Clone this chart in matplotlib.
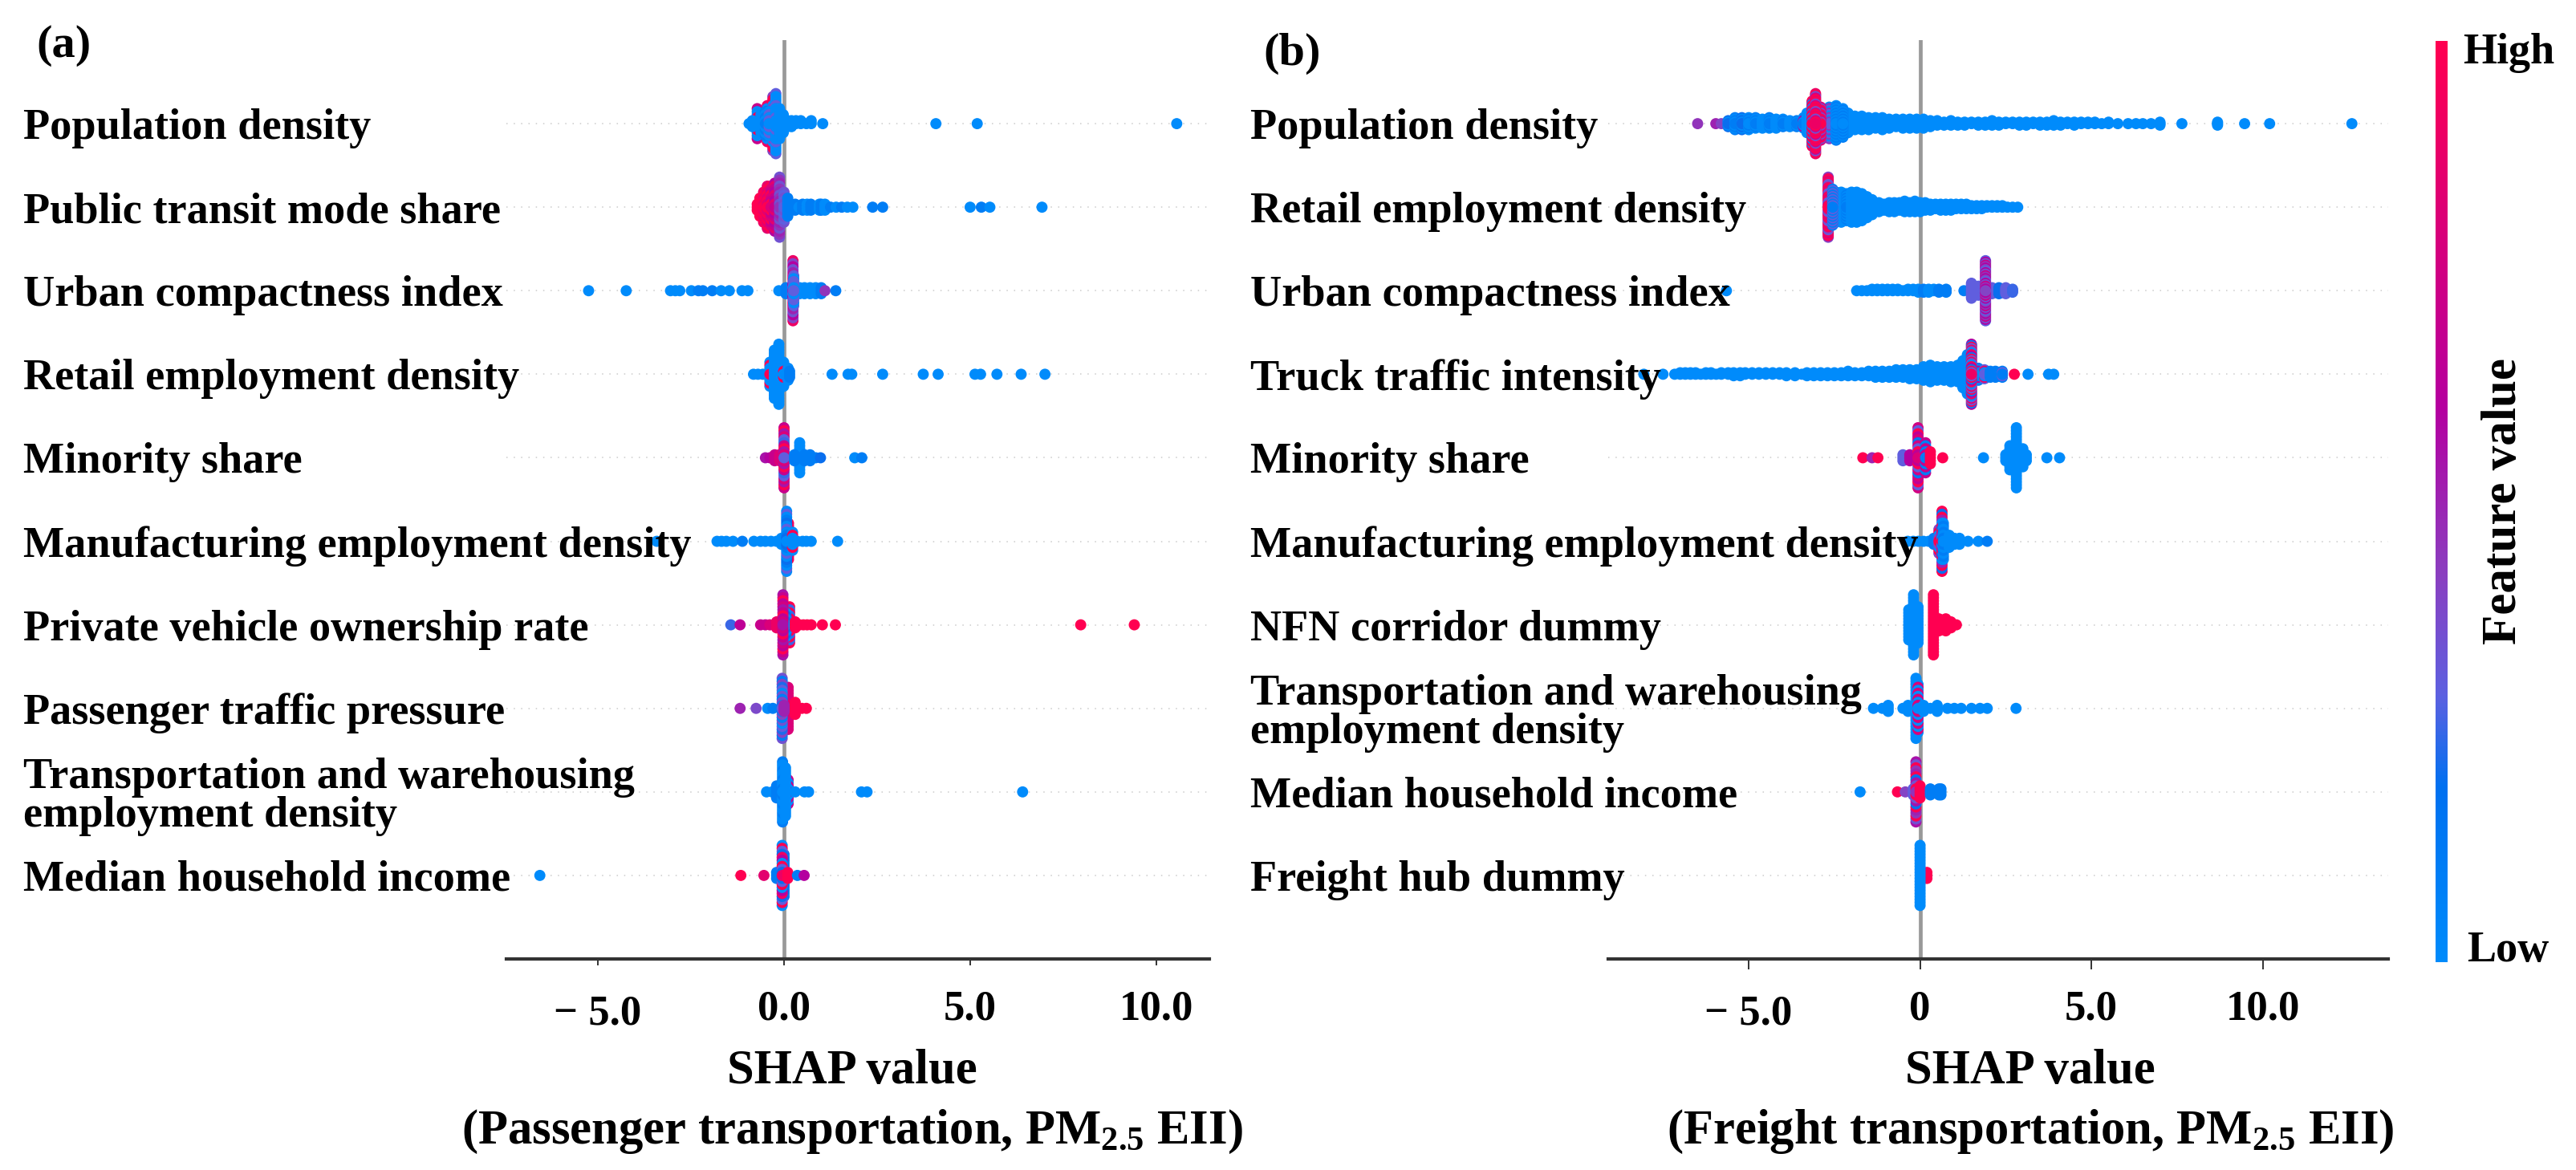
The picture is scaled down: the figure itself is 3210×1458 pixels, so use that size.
import matplotlib
matplotlib.use("Agg")
import matplotlib.pyplot as plt
from matplotlib.cm import ScalarMappable
from matplotlib.colors import LinearSegmentedColormap, Normalize
from matplotlib.transforms import ScaledTranslation

plt.rcParams.update({
    "font.family": "Liberation Serif",
    "font.weight": "bold",
    "axes.labelweight": "bold",
    "mathtext.fontset": "custom",
    "mathtext.rm": "Liberation Serif:bold",
    "mathtext.bf": "Liberation Serif:bold",
    "mathtext.default": "rm",
    "axes.unicode_minus": False,
})

# Each column of a swarm: SHAP value, number of stacked samples, feature values
# (cycled from the centre of the stack outwards). Columns draw in list order.

# ---- Passenger transportation ----
passenger_labels = ["Population density", "Public transit mode share", "Urban compactness index",
                    "Retail employment density", "Minority share", "Manufacturing employment density",
                    "Private vehicle ownership rate", "Passenger traffic pressure",
                    "Transportation and warehousing\nemployment density", "Median household income"]

p1_x = [-0.72, -0.45, -0.3, -0.62, -0.94, -0.85, -0.5, -0.4, -0.22, -0.12, -0.02, 0.1, 0.2, 0.32, 0.45, 0.6, 0.73, 1.04, 4.08, 5.19, 10.55]
p1_n = [11, 13, 19, 7, 1, 3, 9, 9, 21, 11, 7, 3, 3, 2, 2, 1, 2, 1, 1, 1, 1]
p1_v = [(0, .7, 1, 0), (.9, .5, 0), (1, .4, 0, 1), (0,), (0,), (0,), (.1, 0), (0, .3), (0, 0, .3, 0), (0,), (0,), (0,), (0,), (0,), (0,), (0,), (0,), (0,), (0,), (0,), (0,)]

p2_x = [-0.72, -0.65, -0.55, -0.45, -0.35, -0.25, -0.12, 0.0, 0.1, 0.2, 0.3, 0.4, 0.5, 0.62, 0.72, 0.85, 0.95, 1.0, 1.1, 1.25, 1.4, 1.55, 1.7, 1.85, 2.38, 2.65, 5.0, 5.3, 5.53, 6.93]
p2_n = [3, 7, 11, 15, 15, 17, 21, 11, 7, 3, 3, 1, 3, 3, 3, 1, 3, 3, 3, 1, 1, 1, 1, 1, 1, 1, 1, 1, 1, 1]
p2_v = [(1,), (1,), (1, .9), (1, .85), (.8, 1, .7), (.7, .85, .6), (.45, .35, .5), (.3, .35), (.1,), (.1,), (.1,), (0,), (.1,), (0,), (.1,), (.1,), (0,), (.1,), (0,), (.1,), (0,), (.1,), (0,), (0,), (.1,), (.1,), (0,), (.1,), (0,), (0,)]

p3_x = [-5.25, -4.24, -3.05, -2.92, -2.8, -2.49, -2.3, -2.18, -1.93, -1.69, -1.47, -1.13, -0.97, -0.14, 0.05, 0.42, 0.55, 0.7, 0.85, 1.0, 1.1, 1.39, 0.24, 0.26]
p3_n = [1, 1, 1, 1, 1, 1, 1, 1, 1, 1, 1, 1, 1, 1, 3, 3, 3, 3, 3, 3, 1, 1, 21, 11]
p3_v = [(0,), (0,), (0,), (0,), (0,), (0,), (.1,), (.1,), (.1,), (0,), (0,), (0,), (0,), (0,), (.1,), (0,), (0,), (0,), (0,), (.1,), (.45,), (.1,), (.5, .35, .6, .4, .9, .8), (.3, 0, .3)]

p4_x = [-0.82, -0.7, -0.57, -0.38, -0.26, -0.14, -0.01, 0.11, 0.15, 1.29, 1.72, 1.82, 2.65, 3.74, 4.14, 5.13, 5.28, 5.72, 6.37, 7.01]
p4_n = [1, 1, 1, 9, 17, 21, 9, 5, 3, 1, 1, 1, 1, 1, 1, 1, 1, 1, 1, 1]
p4_v = [(0,), (0,), (0,), (1, 0, 0), (0,), (0,), (0, 1, 0, 0), (0,), (.1,), (0,), (0,), (0,), (0,), (0,), (0,), (0,), (0,), (0,), (0,), (0,)]

p5_x = [-0.5, -0.38, -0.25, -0.12, 0.0, 0.42, 0.28, 0.55, 0.7, 0.85, 0.98, 1.9, 2.09]
p5_n = [1, 1, 3, 3, 21, 11, 3, 3, 3, 1, 1, 1, 1]
p5_v = [(.55,), (.6,), (.7,), (.8,), (.3, .8, .55, 1, .7, .25), (0,), (.1,), (.1,), (.1,), (.1,), (.2,), (0,), (.1,)]

p6_x = [-3.42, -1.8, -1.68, -1.55, -1.37, -1.12, -0.81, -0.63, -0.5, -0.35, -0.2, -0.07, 0.12, 0.07, 0.23, 0.35, 0.5, 0.6, 0.73, 1.44]
p6_n = [1, 1, 1, 1, 1, 1, 1, 1, 1, 1, 1, 3, 13, 21, 7, 1, 1, 1, 1, 1]
p6_v = [(0,), (0,), (0,), (0,), (0,), (.1,), (0,), (0,), (0,), (0,), (0,), (0,), (1, .9), (0, .2, .1, 0, .3), (0, 0, 1), (0,), (0,), (0,), (0,), (0,)]

p7_x = [-1.43, -1.18, -0.63, -0.5, -0.38, -0.2, 0.15, 0.05, -0.03, 0.3, 0.42, 0.52, 0.62, 0.73, 1.03, 1.38, 7.97, 9.41]
p7_n = [1, 1, 1, 1, 1, 3, 13, 9, 21, 3, 1, 1, 1, 1, 1, 1, 1, 1]
p7_v = [(.25,), (.65,), (.7,), (.7,), (.8,), (.9,), (1, .25), (0, .2), (.55, .75, .65, 1, .7), (1,), (1,), (1,), (1,), (1,), (1,), (1,), (1,), (1,)]

p8_x = [-1.18, -0.75, -0.44, -0.3, 0.11, -0.05, 0.0, 0.3, 0.48, 0.6]
p8_n = [1, 1, 1, 1, 15, 21, 3, 5, 1, 1]
p8_v = [(.5,), (.38,), (0,), (.1,), (.8,), (.3, .22, .4, .1, .35, 0), (.5,), (1,), (1,), (1,)]

p9_x = [-0.47, -0.32, -0.2, -0.04, 0.11, 0.3, 0.55, 0.66, 2.08, 2.23, 6.41, 0.04]
p9_n = [1, 1, 5, 21, 9, 1, 1, 1, 1, 1, 1, 17]
p9_v = [(0,), (0,), (.1,), (0, .1, 0), (.7, 0), (0,), (0,), (0,), (0,), (0,), (0,), (0,)]

p10_x = [-6.56, -1.16, -0.54, -0.2, 0.0, -0.05, 0.1, 0.36, 0.54]
p10_n = [1, 1, 1, 3, 15, 21, 3, 1, 1]
p10_v = [(0,), (1,), (.85,), (.1,), (.1, .2), (.9, .2, .3, 1, 0, .6), (1,), (.1,), (.6,)]

# ---- Freight transportation ----
freight_labels = ["Population density", "Retail employment density", "Urban compactness index",
                  "Truck traffic intensity", "Minority share", "Manufacturing employment density",
                  "NFN corridor dummy", "Transportation and warehousing\nemployment density",
                  "Median household income", "Freight hub dummy"]

f1_x = [-6.49, -5.96, -5.8, -5.6, -5.4, -5.2, -5.0, -4.8, -4.6, -4.4, -4.2, -4.0, -3.8, -3.6, -3.4, -2.1, -1.9, -1.7, -1.5, -1.3, -1.1, -0.9, -0.7, -0.5, -0.3, -0.1, 0.1, 0.3, 0.5, 0.7, 0.9, 1.1, 1.3, 1.5, 1.7, 1.9, 2.1, 2.3, 2.5, 2.7, 2.9, 3.1, 3.3, 3.5, 3.7, 3.9, 4.1, 4.3, 4.5, 4.7, 4.9, 5.1, 5.3, 5.5, 5.77, 6.07, 6.3, 6.5, 6.74, 7.0, 7.64, 8.68, 9.47, 10.2, 12.6, -3.3, -2.65, -2.45, -2.25, -2.9, -3.15, -3.05]
f1_n = [1, 1, 1, 5, 9, 9, 9, 8, 7, 8, 7, 6, 5, 5, 8, 14, 10, 10, 9, 8, 9, 7, 6, 7, 7, 7, 7, 5, 4, 3, 4, 3, 3, 2, 3, 3, 4, 3, 2, 2, 3, 3, 2, 3, 3, 4, 3, 2, 3, 2, 2, 2, 1, 2, 1, 1, 1, 1, 1, 3, 1, 3, 1, 1, 1, 14, 22, 24, 20, 23, 31, 41]
f1_v = [(.45,), (.5,), (.4,), (.2, 0), (.1, 0), (.2, 0), (0, .1), (.1, 0), (0,), (.1, 0), (0,), (.1, 0), (0,), (.1, 0), (.1, 0, .6), (0,), (0,), (0,), (0,), (0,), (0,), (0,), (0,), (0,), (0,), (0,), (0,), (0,), (0,), (0,), (0,), (0,), (0,), (0,), (0,), (0,), (0,), (0,), (0,), (0,), (0,), (0,), (0,), (0,), (0,), (0,), (0,), (0,), (0,), (0,), (0,), (0,), (0,), (0,), (0,), (0,), (0,), (0,), (0,), (0,), (0,), (0,), (0,), (0,), (0,), (0,), (.3, .45, 0), (0, .1), (0, .1), (1, .4, .8), (1, 0, .9), (.9, 1, .75, .35, 1)]

f2_x = [-1.28, -2.45, -2.3, -2.15, -2.0, -1.85, -1.7, -1.55, -1.4, -1.2, -1.05, -0.9, -0.75, -0.6, -0.45, -0.3, -0.15, 0.0, 0.15, 0.3, 0.45, 0.6, 0.75, 0.9, 1.05, 1.2, 1.35, 1.5, 1.65, 1.8, 1.95, 2.1, 2.25, 2.4, 2.55, 2.7, 2.85, -2.68, -2.55]
f2_n = [1, 21, 21, 19, 21, 21, 19, 15, 11, 7, 5, 7, 7, 6, 8, 7, 8, 7, 6, 5, 4, 5, 5, 5, 4, 4, 4, 3, 3, 3, 2, 2, 2, 2, 1, 1, 1, 41, 25]
f2_v = [(.8,), (0, .1), (0,), (.1, 0), (0,), (0,), (0,), (0,), (0,), (0,), (0,), (0,), (0,), (0,), (0,), (0,), (0,), (0,), (0,), (0,), (0,), (0,), (0,), (0,), (0,), (0,), (0,), (0,), (0,), (0,), (0,), (0,), (0,), (0,), (0,), (0,), (0,), (1, .9, .4, .3, .95, .8), (.1, .3)]

f3_x = [-5.65, -1.85, -1.7, -1.55, -1.4, -1.25, -1.1, -0.95, -0.8, -0.65, -0.5, -0.35, -0.2, -0.05, 0.1, 0.25, 0.4, 0.55, 0.76, 1.28, 1.5, 1.7, 2.1, 2.3, 2.5, 2.7, 1.91]
f3_n = [1, 1, 1, 1, 2, 2, 2, 2, 2, 2, 1, 2, 2, 3, 3, 3, 2, 3, 3, 1, 11, 7, 5, 5, 5, 3, 41]
f3_v = [(0,), (0,), (0,), (0,), (0,), (0,), (0,), (0,), (0,), (0,), (0,), (0,), (0,), (0,), (.1,), (0,), (0,), (.1,), (.1,), (.1,), (.3,), (.3,), (.3,), (.2,), (.3,), (.25,), (.4, .6, .45, .7, .35, .6, .3)]

f4_x = [-8.06, -7.5, -7.16, -7.0, -6.85, -6.7, -6.55, -6.4, -6.25, -6.1, -5.95, -5.8, -5.6, -5.44, -5.25, -5.1, -4.9, -4.7, -4.5, -4.3, -4.1, -3.9, -3.65, -3.45, -3.3, -3.1, -2.9, -2.7, -2.5, -2.3, -2.1, -1.9, -1.7, -1.5, -1.3, -1.1, -0.9, -0.7, -0.5, -0.3, -0.1, 0.1, 0.3, 0.5, 0.7, 0.9, 1.1, 1.25, 1.38, 3.15, 3.75, 3.9, 1.7, 1.88, 2.05, 2.2, 2.4, 2.75, 1.5]
f4_n = [1, 1, 1, 2, 2, 2, 2, 1, 2, 2, 1, 2, 2, 3, 3, 2, 2, 2, 2, 2, 2, 3, 3, 1, 3, 3, 3, 3, 3, 3, 4, 3, 3, 4, 5, 5, 5, 6, 6, 7, 7, 10, 12, 10, 10, 11, 12, 19, 27, 1, 1, 1, 9, 7, 5, 5, 5, 1, 41]
f4_v = [(0,), (0,), (0,), (0,), (0,), (0,), (0,), (0,), (0,), (0,), (0,), (0,), (0,), (0,), (0,), (0,), (0,), (0,), (0,), (0,), (0,), (0,), (0,), (0,), (0,), (0,), (0,), (0,), (0,), (0,), (0,), (0,), (0,), (0,), (0,), (0,), (0,), (0,), (0,), (0,), (0,), (0,), (0,), (0,), (0,), (0,), (0,), (0,), (0,), (0,), (0,), (0,), (0, .1, .7), (.3, 0, .9), (.1,), (.1,), (.1, .3), (1,), (.9, .3, 1, .1, .6, 1, 0, .3)]

f5_x = [-1.67, -1.4, -1.23, -0.5, -0.3, -0.06, 0.16, 0.3, 0.66, 1.85, 2.5, 2.62, 2.81, 3.0, 3.1, 3.7, 4.07]
f5_n = [1, 1, 1, 3, 3, 21, 11, 5, 1, 1, 3, 9, 21, 7, 3, 1, 1]
f5_v = [(1,), (.5,), (1,), (.3,), (.6,), (.8, .65, 1, .3, .75, .15), (.1, .7), (1,), (1,), (0,), (0,), (0,), (0,), (0,), (0,), (0,), (0,)]

f6_x = [-0.36, -0.2, -0.05, 0.1, 0.25, 0.4, 0.55, 0.64, 0.68, 0.85, 1.0, 1.15, 1.4, 1.7, 1.96]
f6_n = [1, 1, 1, 1, 1, 3, 9, 21, 13, 5, 3, 3, 1, 1, 1]
f6_v = [(0,), (0,), (0,), (0,), (0,), (.1,), (1, .4, 0), (1, 0, .5, 1, .2), (0, .1), (0,), (0,), (0,), (0,), (0,), (.1,)]

f7_x = [-0.33, -0.19, -0.06, 0.39, 0.55, 0.75, 0.9, 1.06]
f7_n = [11, 21, 13, 21, 5, 5, 3, 1]
f7_v = [(0,), (0,), (0,), (1,), (1,), (1,), (1,), (1,)]

f8_x = [-1.36, -1.1, -0.93, -0.5, -0.35, -0.12, -0.06, 0.1, 0.3, 0.5, 0.8, 1.0, 1.2, 1.5, 1.75, 1.96, 2.8]
f8_n = [1, 1, 3, 1, 3, 21, 17, 3, 1, 3, 1, 1, 1, 1, 1, 1, 1]
f8_v = [(0,), (0,), (0,), (0,), (0,), (0,), (0, .8), (0,), (0,), (0,), (0,), (0,), (0,), (0,), (0,), (0,), (0,)]

f9_x = [-1.75, -0.66, -0.43, -0.2, -0.12, 0.0, 0.3, 0.55, 0.61]
f9_n = [1, 1, 1, 3, 21, 5, 3, 3, 3]
f9_v = [(0,), (1,), (.4,), (.3,), (.45, 1, .35, .55, .2, 1, .5), (1,), (.1,), (.1,), (.1,)]

f10_x = [0.2, 0.0]
f10_n = [3, 21]
f10_v = [(1,), (0,)]

passenger_rows = [(p1_x, p1_n, p1_v), (p2_x, p2_n, p2_v), (p3_x, p3_n, p3_v), (p4_x, p4_n, p4_v), (p5_x, p5_n, p5_v),
                  (p6_x, p6_n, p6_v), (p7_x, p7_n, p7_v), (p8_x, p8_n, p8_v), (p9_x, p9_n, p9_v), (p10_x, p10_n, p10_v)]
freight_rows = [(f1_x, f1_n, f1_v), (f2_x, f2_n, f2_v), (f3_x, f3_n, f3_v), (f4_x, f4_n, f4_v), (f5_x, f5_n, f5_v),
                (f6_x, f6_n, f6_v), (f7_x, f7_n, f7_v), (f8_x, f8_n, f8_v), (f9_x, f9_n, f9_v), (f10_x, f10_n, f10_v)]

xtick_values = [-5.0, 0.0, 5.0, 10.0]
passenger_xticks = ["\u2212 5.0", "0.0", "5.0", "10.0"]
freight_xticks = ["\u2212 5.0", "0", "5.0", "10.0"]

W, H = 3210, 1458
DPI = 100
LABEL_PT = 39.1
shap_cmap = LinearSegmentedColormap.from_list(
    "shap_rb", [(0, "#008bfb"), (.19, "#0070f0"), (.29, "#5d60e0"), (.42, "#8a3fc0"), (.6, "#b400a0"), (1, "#ff0051")])


def panel_axes(fig, left, right, top=50, bottom=1195):
    return fig.add_axes([left / W, 1 - bottom / H, (right - left) / W, (bottom - top) / H])


def nudge_down(fig, label, px):
    label.set_transform(label.get_transform() + ScaledTranslation(0, -px / DPI, fig.dpi_scale_trans))


def draw_swarm(ax, rows, labels, xlim, label_left, left_px, tick_text, tick_px, xlabel, label_x):
    ax.axvline(0, color="#999999", lw=3.4, zorder=0)
    count = len(rows)
    for r, (xs, ns, vs) in enumerate(rows):
        centre = count - 1 - r
        ax.axhline(centre, color="#cccccc", lw=1.1, dashes=(1, 5), zorder=-1)
        step = 0.36 / (max(ns) // 2)
        px, py, pc = [], [], []
        for x, n, v in zip(xs, ns, vs):
            # outermost samples first, so the centre of a stack stays on top
            for layer in range(n - 1, -1, -1):
                offset = ((layer + 1) // 2) * (1 if layer % 2 else -1)
                px.append(x)
                py.append(centre + offset * step)
                pc.append(v[((layer + 1) // 2) % len(v)])
        ax.scatter(px, py, c=pc, s=100, cmap=shap_cmap, vmin=0, vmax=1, linewidths=0, zorder=1)
    ax.set_xlim(*xlim)
    ax.set_ylim(-1, count)
    ax.set_axisbelow(False)
    for side in ("top", "left", "right"):
        ax.spines[side].set_visible(False)
    ax.spines["bottom"].set_color("#333333")
    ax.spines["bottom"].set_linewidth(3)
    ax.set_yticks(range(count - 1, -1, -1), labels, ha="left", va="center", fontsize=LABEL_PT,
                  linespacing=0.94)
    ax.tick_params(axis="y", length=0, pad=(left_px - label_left) * 72 / DPI)
    for label in ax.get_yticklabels():
        nudge_down(ax.figure, label, 6)
    ax.set_xticks(xtick_values, tick_text, fontsize=38)
    tick_len = tick_px * 72 / DPI
    ax.tick_params(axis="x", length=tick_len, width=1.4, color="#333333", pad=28 - tick_len)
    # the negative tick label sits a little lower than its neighbours
    nudge_down(ax.figure, ax.get_xticklabels()[0], 6)
    ax.set_xlabel(xlabel, fontsize=43.7, labelpad=14, linespacing=1.4, x=label_x)


fig = plt.figure(figsize=(W / DPI, H / DPI), dpi=DPI, facecolor="white")

ax_a = panel_axes(fig, 630.5, 1506.7)
draw_swarm(ax_a, passenger_rows, passenger_labels, (-7.47, 11.42), 29, 630.5, passenger_xticks, 8,
           "SHAP value\n(Passenger transportation, PM$_{2.5}$ EII)", 0.4925)
ax_b = panel_axes(fig, 2004, 2976)
draw_swarm(ax_b, freight_rows, freight_labels, (-9.1, 13.66), 1558, 2004, freight_xticks, 13,
           "SHAP value\n(Freight transportation, PM$_{2.5}$ EII)", 0.541)

fig.text(45 / W, 1 - 57 / H, "(a)", fontsize=42, ha="left", va="center")
fig.text(1574 / W, 1 - 67 / H, "(b)", fontsize=42, ha="left", va="center")

cax = fig.add_axes([3035 / W, 1 - 1199 / H, 15 / W, (1199 - 51) / H])
bar = fig.colorbar(ScalarMappable(Normalize(0, 1), shap_cmap), cax=cax)
bar.set_ticks([])
bar.outline.set_visible(False)
fig.text(3069 / W, 1 - 66 / H, "High", fontsize=39, ha="left", va="center")
fig.text(3074 / W, 1 - 1185 / H, "Low", fontsize=39, ha="left", va="center")
fig.text(3120 / W, 1 - 624 / H, "Feature value", fontsize=44, rotation=90, ha="center", va="center")

fig.savefig("out.png", dpi=DPI, facecolor="white")
